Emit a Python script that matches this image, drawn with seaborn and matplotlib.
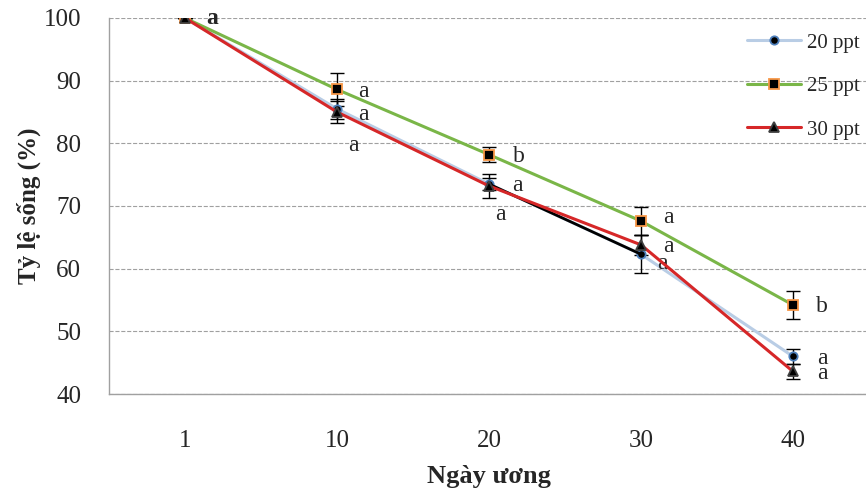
import numpy as np
import pandas as pd
import matplotlib.pyplot as plt
import seaborn as sns

# ---- data ----
days = ['1', '10', '20', '30', '40']
s20 = [100, 85.5, 73.5, 62.3, 46.0]
s25 = [100, 88.6, 78.2, 67.6, 54.2]
s30 = [100, 85.0, 73.2, 63.8, 43.6]
err20 = [0, 1.6, 1.0, 3.0, 1.2]
err25 = [0, 2.6, 1.2, 2.3, 2.3]
err30 = [0, 1.8, 1.9, 1.6, 1.2]
let20 = ['', 'a', 'a', 'a', 'a']
let25 = ['a', 'a', 'b', 'a', 'b']
let30 = ['', 'a', 'a', 'a', 'a']
labels = ['20 ppt', '25 ppt', '30 ppt']

# letter offsets in pixels (dx, dy)
off20 = [(0, 0), (16, -37), (11, -30), (21, -9), (29, -2)]
off25 = [(27, 0), (26, -2), (30, -2), (27, 4), (29, -1)]
off30 = [(0, 0), (26, -2), (28, 0), (27, -2), (29, -2)]

sns.set_style('white')
plt.rcParams['font.family'] = ['Liberation Serif', 'DejaVu Serif']

fig = plt.figure(figsize=(8.66, 4.9), dpi=100)
ax = fig.add_axes([109 / 866, 1 - 394 / 490, 760 / 866, 376 / 490])

pos = np.arange(len(days))
df = pd.DataFrame({'pos': np.tile(pos, 3),
                   'val': s20 + s25 + s30,
                   'err': err20 + err25 + err30,
                   'grp': np.repeat(labels, len(days))})

styles = {
    '20 ppt': dict(color='#b9cde5', marker='o', mec='#4f81bd', ms=6),
    '25 ppt': dict(color='#7ab648', marker='s', mec='#f79646', ms=7),
    '30 ppt': dict(color='#d62728', marker='^', mec='#404040', ms=7),
}
zs = {'20 ppt': 3, '25 ppt': 4, '30 ppt': 5}

for g in labels:
    d = df[df.grp == g]
    st = styles[g]
    ax.errorbar(d.pos, d.val, yerr=d.err, fmt='none', ecolor='black',
                elinewidth=1, capsize=5, capthick=1, zorder=2)
    sns.lineplot(x=d.pos.values, y=d.val.values, ax=ax, color=st['color'],
                 lw=2.2, label=g, zorder=zs[g], marker=st['marker'],
                 markersize=st['ms'], markerfacecolor='black',
                 markeredgecolor=st['mec'], markeredgewidth=1.3)

# black segment of the 20 ppt line between day 20 and 30
ax.plot(pos[2:4], s20[2:4], color='black', lw=2, zorder=3.5)

# significance letters
ax.annotate('a', xy=(pos[0], s25[0]), xytext=off25[0], textcoords='offset pixels',
            ha='center', va='center', fontsize=17, fontweight='bold')
for vals, lets, offs in [(s20, let20, off20), (s25, let25, off25), (s30, let30, off30)]:
    for i in range(1, len(days)):
        if lets[i]:
            ax.annotate(lets[i], xy=(pos[i], vals[i]), xytext=offs[i],
                        textcoords='offset pixels', ha='center', va='center',
                        fontsize=17)

ax.set_xlim(-0.5, 4.5)
ax.set_ylim(40, 100)
ax.set_yticks(range(40, 101, 10))
ax.set_xticks(pos)
ax.set_xticklabels(days)
ax.set_xticks(np.arange(-0.5, 4.5, 1), minor=True)
ax.tick_params(axis='x', which='major', length=0, labelsize=18, pad=26)
ax.tick_params(axis='x', which='minor', length=6, color='#a0a0a0', direction='out')
ax.tick_params(axis='y', length=7, color='#a0a0a0', direction='out', labelsize=18, pad=13)
ax.yaxis.grid(True, ls='--', color='#a0a0a0', lw=0.8)
for s in ['top', 'right']:
    ax.spines[s].set_visible(False)
for s in ['left', 'bottom']:
    ax.spines[s].set_color('#a0a0a0')
    ax.spines[s].set_linewidth(1)

ax.set_xlabel('Ngày ương', fontsize=19, fontweight='bold', labelpad=9)
ax.set_ylabel('Tỷ lệ sống (%)', fontsize=18, fontweight='bold', labelpad=2)

ax.legend(loc='upper left', bbox_to_anchor=(747 / 866, 1 - 33 / 490),
          bbox_transform=fig.transFigure, borderaxespad=0, borderpad=0,
          frameon=False, fontsize=15, handlelength=2.6, labelspacing=1.15,
          handletextpad=0.3)

fig.savefig('out.png', dpi=100)
